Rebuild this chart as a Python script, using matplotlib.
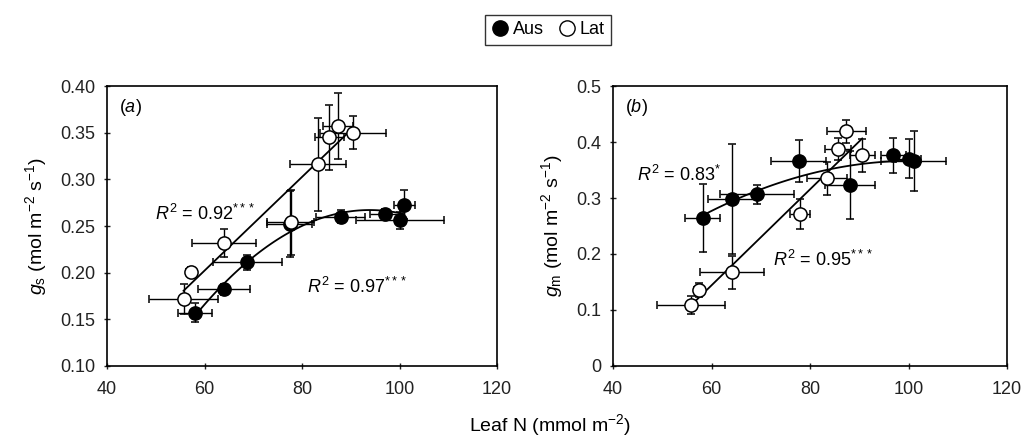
import matplotlib
matplotlib.use("Agg")
import matplotlib.pyplot as plt
from matplotlib.lines import Line2D
import numpy as np

plt.rcParams["font.family"] = ["Liberation Sans", "DejaVu Sans"]
plt.rcParams["mathtext.fontset"] = "custom"
plt.rcParams["mathtext.rm"] = "Liberation Sans"
plt.rcParams["mathtext.it"] = "Liberation Sans:italic"
plt.rcParams["font.size"] = 13

# Panel (a): stomatal conductance gs
aus_n_a = [58.1, 64.0, 68.8, 77.5, 87.9, 97.0, 100.1, 101.0]
aus_n_a_err = [3.5, 5.4, 7.0, 4.6, 5.0, 3.0, 9.0, 2.2]
aus_gs = [0.157, 0.182, 0.211, 0.252, 0.260, 0.263, 0.256, 0.273]
aus_gs_err = [0.010, 0.006, 0.008, 0.035, 0.007, 0.005, 0.009, 0.016]

lat_n_a = [55.7, 57.3, 64.0, 77.7, 83.3, 85.6, 87.4, 90.5]
lat_n_a_err = [7.0, 1.0, 6.5, 4.8, 5.8, 3.0, 3.0, 6.8]
lat_gs = [0.172, 0.201, 0.232, 0.254, 0.316, 0.345, 0.357, 0.350]
lat_gs_err = [0.016, 0.005, 0.015, 0.035, 0.050, 0.035, 0.035, 0.018]

# Panel (b): mesophyll conductance gm
aus_n_b = [58.2, 64.2, 69.2, 77.7, 88.1, 96.9, 100.0, 101.1]
aus_n_b_err = [3.6, 5.0, 7.5, 5.6, 5.0, 2.5, 2.5, 6.6]
aus_gm = [0.264, 0.298, 0.307, 0.366, 0.323, 0.376, 0.370, 0.366]
aus_gm_err = [0.061, 0.098, 0.017, 0.037, 0.061, 0.032, 0.035, 0.054]

lat_n_b = [55.75, 57.5, 64.2, 77.9, 83.45, 85.7, 87.4, 90.6]
lat_n_b_err = [6.9, 1.0, 6.5, 2.0, 4.0, 2.7, 3.9, 2.5]
lat_gm = [0.109, 0.136, 0.167, 0.272, 0.335, 0.388, 0.419, 0.376]
lat_gm_err = [0.016, 0.012, 0.030, 0.027, 0.029, 0.020, 0.020, 0.030]

r2_labels_a = ["0.92***", "0.97***"]
r2_labels_b = ["0.83*", "0.95***"]


def draw_series(ax, x, xerr, y, yerr, filled):
    ax.errorbar(x, y, xerr=xerr, yerr=yerr, fmt="o", ms=9.5,
                mfc="black" if filled else "white", mec="black", mew=1.1,
                ecolor="black", elinewidth=1.0, capsize=3, capthick=1.0,
                zorder=3)


def draw_fit(ax, x, y, deg):
    coef = np.polyfit(x, y, deg)
    xs = np.linspace(min(x), max(x), 100)
    ax.plot(xs, np.polyval(coef, xs), color="black", lw=1.3, zorder=2)


def r2_text(label):
    stars = label.count("*")
    value = label.rstrip("*")
    return "$R^2$ = " + value + "$^{" + "*" * stars + "}$"


def style_axes(ax):
    ax.set_xlim(40, 120)
    ax.set_xticks([40, 60, 80, 100, 120])
    ax.tick_params(direction="inout", length=5, width=1, labelsize=13,
                   colors="#222222", pad=6)
    ax.tick_params(axis="x", pad=8)
    for sp in ax.spines.values():
        sp.set_linewidth(1.2)


fig = plt.figure(figsize=(10.24, 4.41), dpi=100)
ax_a = fig.add_axes([107 / 1024, 1 - 366 / 441, 390 / 1024, 280 / 441])
ax_b = fig.add_axes([613 / 1024, 1 - 366 / 441, 394 / 1024, 280 / 441])

# (a)
draw_fit(ax_a, lat_n_a, lat_gs, 1)
draw_fit(ax_a, aus_n_a, aus_gs, 2)
draw_series(ax_a, aus_n_a, aus_n_a_err, aus_gs, aus_gs_err, True)
draw_series(ax_a, lat_n_a, lat_n_a_err, lat_gs, lat_gs_err, False)
style_axes(ax_a)
ax_a.set_ylim(0.10, 0.40)
ax_a.set_yticks(np.arange(0.10, 0.401, 0.05))
ax_a.set_yticklabels([f"{v:.2f}" for v in np.arange(0.10, 0.401, 0.05)])
ax_a.set_ylabel("$g_\\mathrm{s}$ (mol m$^{-2}$ s$^{-1}$)", fontsize=14, labelpad=8)
ax_a.text(42.5, 0.3775, "($a$)", fontsize=13, va="center")
ax_a.text(49.8, 0.263, r2_text(r2_labels_a[0]), fontsize=13, va="center")
ax_a.text(81.1, 0.185, r2_text(r2_labels_a[1]), fontsize=13, va="center")

# (b)
draw_fit(ax_b, lat_n_b, lat_gm, 1)
draw_fit(ax_b, aus_n_b, aus_gm, 2)
draw_series(ax_b, aus_n_b, aus_n_b_err, aus_gm, aus_gm_err, True)
draw_series(ax_b, lat_n_b, lat_n_b_err, lat_gm, lat_gm_err, False)
style_axes(ax_b)
ax_b.set_ylim(0, 0.5)
ax_b.set_yticks([0, 0.1, 0.2, 0.3, 0.4, 0.5])
ax_b.set_yticklabels(["0", "0.1", "0.2", "0.3", "0.4", "0.5"])
ax_b.set_ylabel("$g_\\mathrm{m}$ (mol m$^{-2}$ s$^{-1}$)", fontsize=14, labelpad=8)
ax_b.text(42.5, 0.4625, "($b$)", fontsize=13, va="center")
ax_b.text(44.9, 0.342, r2_text(r2_labels_b[0]), fontsize=13, va="center")
ax_b.text(72.4, 0.189, r2_text(r2_labels_b[1]), fontsize=13, va="center")

fig.text(550 / 1024, 1 - 425 / 441, "Leaf N (mmol m$^{-2}$)", ha="center", va="center", fontsize=14)

handles = [
    Line2D([], [], marker="o", ls="none", ms=11, mfc="black", mec="black"),
    Line2D([], [], marker="o", ls="none", ms=11, mfc="white", mec="black"),
]
leg = fig.legend(handles, ["Aus", "Lat"], loc="center", ncol=2,
                 bbox_to_anchor=(548 / 1024, 1 - 30 / 441), frameon=True,
                 fancybox=False, handletextpad=0.2, columnspacing=0.8,
                 borderpad=0.35, handlelength=1.0, fontsize=13)
leg.get_frame().set_edgecolor("black")
leg.get_frame().set_linewidth(1.0)

fig.savefig("out.png", dpi=100)
